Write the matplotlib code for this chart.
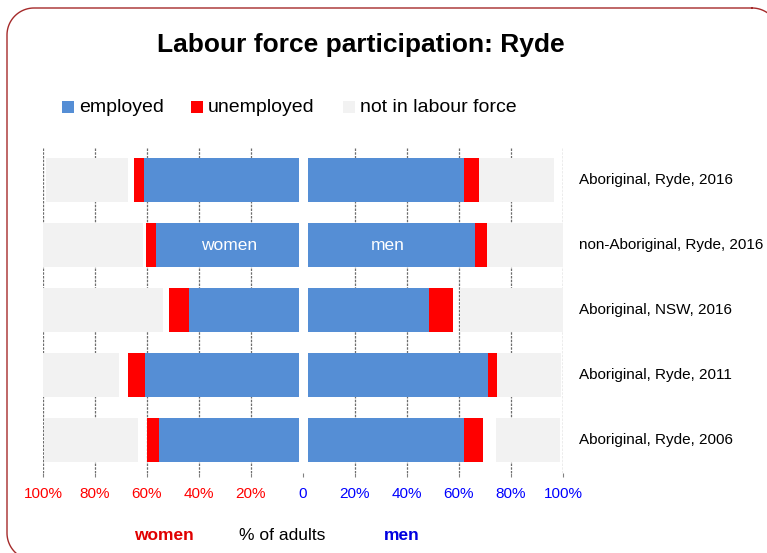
import matplotlib
matplotlib.use("Agg")
import matplotlib.pyplot as plt
import numpy as np
from matplotlib.patches import Rectangle
from matplotlib.lines import Line2D

plt.rcParams['font.family'] = ['Liberation Sans', 'DejaVu Sans']

categories = ["Aboriginal, Ryde, 2016", "non-Aboriginal, Ryde, 2016",
              "Aboriginal, NSW, 2016", "Aboriginal, Ryde, 2011",
              "Aboriginal, Ryde, 2006"]
women_employed = [61.2, 56.7, 44.0, 60.8, 55.3]
women_unemployed = [3.7, 3.7, 7.4, 6.5, 4.7]
women_gap = [2.3, 1.0, 2.4, 3.5, 3.6]
women_notlf = [31.6, 38.5, 46.1, 29.1, 35.9]
men_employed = [61.9, 66.2, 48.3, 71.2, 61.8]
men_unemployed = [5.7, 4.4, 9.5, 3.3, 7.4]
men_gap = [0.0, 0.0, 2.7, 0.0, 4.9]
men_notlf = [28.9, 29.3, 39.5, 24.6, 24.7]
tick_values = [-100, -80, -60, -40, -20, 0, 20, 40, 60, 80, 100]
tick_labels = ["100%", "80%", "60%", "40%", "20%", "0", "20%", "40%", "60%", "80%", "100%"]

BLUE = "#558ED5"
RED = "#FF0000"
GRAY = "#F2F2F2"

W, H = 767, 553
fig = plt.figure(figsize=(W / 100, H / 100), dpi=100)

# rounded border drawn in pixel coordinates (top-left origin)
def rounded_border(x0, y0, x1, y1, r, n=30):
    pts = []
    corners = [((x1 - r, y0 + r), -90, 0), ((x1 - r, y1 - r), 0, 90),
               ((x0 + r, y1 - r), 90, 180), ((x0 + r, y0 + r), 180, 270)]
    for (cx, cy), a0, a1 in corners:
        t = np.radians(np.linspace(a0, a1, n))
        pts.extend(zip(cx + r * np.cos(t), cy + r * np.sin(t)))
    pts.append(pts[0])
    xs = np.array([p[0] for p in pts]) / 100.0
    ys = (H - np.array([p[1] for p in pts])) / 100.0
    return xs, ys

bx, by = rounded_border(7, 8, 779, 560, 27)
fig.add_artist(Line2D(bx, by, transform=fig.dpi_scale_trans, color="#A52A2A", linewidth=1.0))

ax = fig.add_axes([43 / W, 80.5 / H, 520 / W, 325 / H])
y = list(range(len(categories)))
bh = 0.68

ax.barh(y, [-v for v in women_employed], height=bh, color=BLUE, zorder=2)
w_left_red = [-e for e in women_employed]
ax.barh(y, [-u for u in women_unemployed], left=w_left_red, height=bh, color=RED, zorder=2)
w_left_gray = [-(e + u + g) for e, u, g in zip(women_employed, women_unemployed, women_gap)]
ax.barh(y, [-n for n in women_notlf], left=w_left_gray, height=bh, color=GRAY, zorder=2)

ax.barh(y, men_employed, height=bh, color=BLUE, zorder=2)
ax.barh(y, men_unemployed, left=men_employed, height=bh, color=RED, zorder=2)
m_left_gray = [e + u + g for e, u, g in zip(men_employed, men_unemployed, men_gap)]
ax.barh(y, men_notlf, left=m_left_gray, height=bh, color=GRAY, zorder=2)

# white separation at zero
ax.axvspan(-1.5, 1.9, color="white", zorder=3, lw=0)

for v in tick_values:
    if v != 0:
        ax.axvline(v, color="#6E6E6E", linestyle=(0, (2, 1)), linewidth=0.9, zorder=1)

ax.set_xlim(-100, 100)
ax.set_ylim(4.5, -0.5)
ax.set_yticks([])
ax.set_xticks(tick_values)
ax.set_xticklabels(tick_labels, fontsize=11)
for lbl, v in zip(ax.get_xticklabels(), tick_values):
    lbl.set_color(RED if v < 0 else "#0000FF")
ax.tick_params(axis="x", length=3, color="#808080", pad=7.5)
for s in ax.spines.values():
    s.set_visible(False)

for i, c in enumerate(categories):
    ax.text(1.03, i, c, transform=ax.get_yaxis_transform(), ha="left", va="center", fontsize=11)

ax.text(-28.5, 1, "women", color="white", ha="center", va="center", fontsize=12.5, zorder=4)
ax.text(32.5, 1, "men", color="white", ha="center", va="center", fontsize=12.5, zorder=4)

fig.text(361 / W, 1 - 52 / H, "Labour force participation: Ryde", ha="center", va="baseline",
         fontsize=19, fontweight="bold")

# legend
leg = [(62, BLUE, "employed"), (191, RED, "unemployed"), (343, GRAY, "not in labour force")]
for x0, col, txt in leg:
    fig.patches.append(Rectangle((x0 / W, 1 - 113 / H), 12 / W, 12 / H, transform=fig.transFigure,
                                 facecolor=col, edgecolor="none"))
    fig.text((x0 + 17) / W, 1 - 107 / H, txt, ha="left", va="center", fontsize=14)

fig.text(164 / W, 1 - 535 / H, "women", color="#E00000", fontweight="bold", ha="center",
         va="center", fontsize=12.5)
fig.text(282 / W, 1 - 535 / H, "% of adults", color="black", ha="center", va="center", fontsize=12.5)
fig.text(402 / W, 1 - 535 / H, "men", color="#0000E0", fontweight="bold", ha="center",
         va="center", fontsize=12.5)

fig.savefig("out.png", dpi=100)
